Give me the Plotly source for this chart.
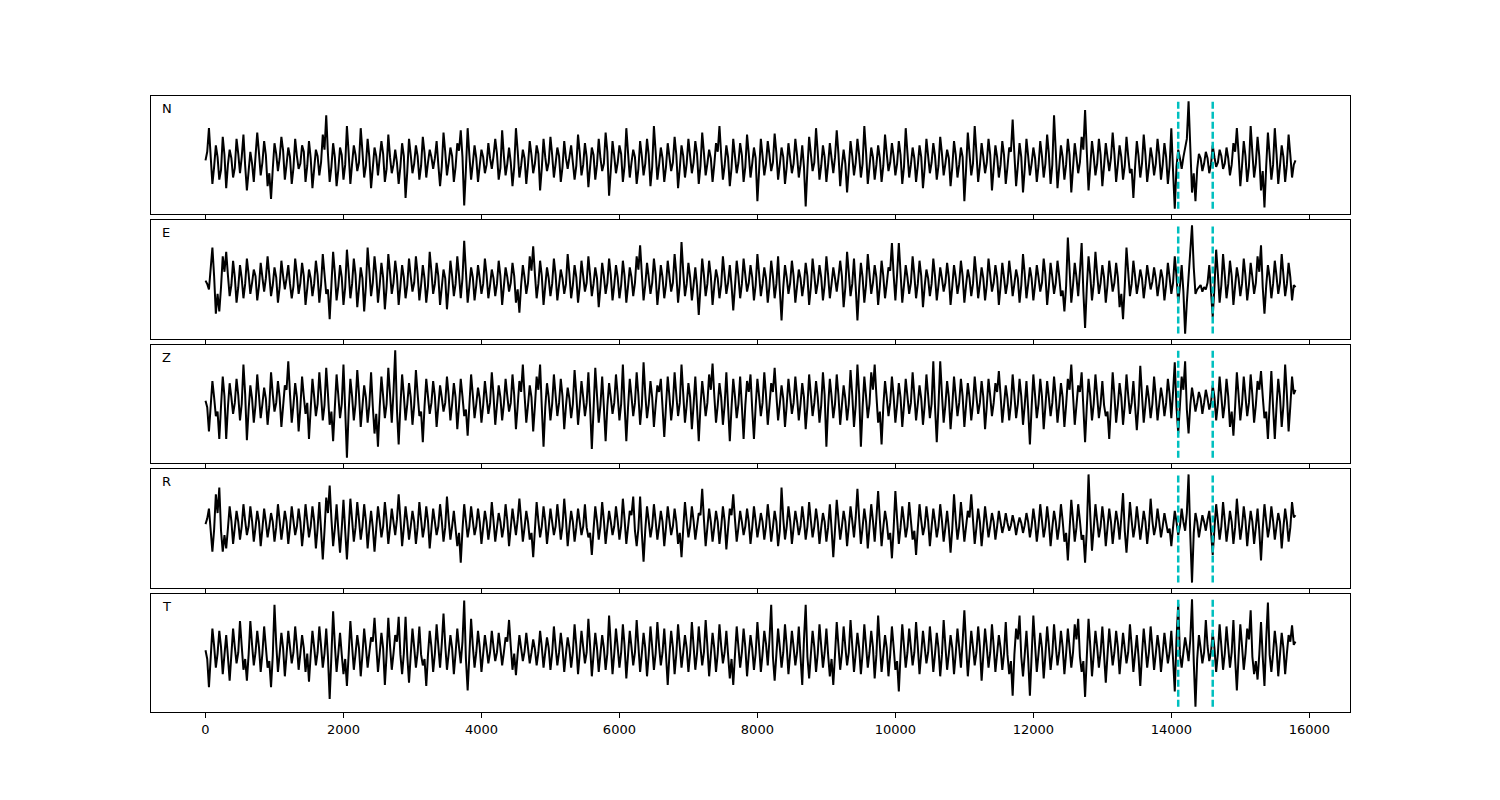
import numpy as np
import plotly.graph_objects as go
from plotly.subplots import make_subplots

# ---- data (one value every 25 samples) ----
sample_step = 25
components = ["N", "E", "Z", "R", "T"]
pick_times = [14100, 14600]
x_ticks = [0, 2000, 4000, 6000, 8000, 10000, 12000, 14000, 16000]
x_tick_labels = ["0", "2000", "4000", "6000", "8000", "10000", "12000", "14000", "16000"]

trace_N = [
    0, 8, 30, 4, -22, -6, 14, 3, -18, -9, 22, 5, -26, -4, 10, 2, -16, -7, 20, 6,
    -12, 3, 24, -5, -28, -10, 8, -3, -20, 4, 26, 7, -14, -2, 18, 5, -24, -12, -36, -8,
    16, 6, -10, 2, 22, 9, -18, -4, 12, 3, -22, -7, 20, 4, -8, -3, 14, 8, -20, -5,
    18, 2, -26, -8, 10, 4, -14, -2, 24, 10, 42, 6, -20, -6, 16, 3, -24, -9, 12, 5,
    -18, -4, 32, 7, -22, -3, 14, 5, -10, -2, 30, 8, -16, -5, 20, 3, -26, -7, 12, 4,
    -14, 2, 18, 6, -20, -8, 24, 3, -12, -4, 10, -2, -22, -6, 16, 4, -35, -10, 20, 5,
    -12, -3, 14, 4, -18, -5, 22, 7, -16, -2, 10, 3, -8, 2, 18, -4, -24, -6, 26, 8,
    -14, -2, 12, 4, -20, -6, 16, 9, 28, 3, -42, -8, 30, 5, -18, -3, 14, 2, -20, -5,
    10, 3, -12, -4, 16, 2, -8, 4, 20, 6, -18, -7, 28, 4, -14, -3, 12, -2, -24, -6,
    30, 9, -16, -5, 10, 2, -22, -4, 18, 5, -12, -3, 14, 6, -28, -7, 20, 3, -10, -2,
    22, 5, -16, -3, 12, 4, -20, -6, 18, 2, -8, 3, 14, -2, -18, -5, 24, 7, -14, -4,
    16, 3, -25, -6, 12, 5, -18, -4, 20, 2, -10, -3, 26, 8, -33, -9, 18, 4, -12, -2,
    14, 6, -20, -5, 30, 7, -16, -2, 10, 3, -22, -8, 18, 4, -14, -3, 20, 5, -24, -6,
    32, 8, -18, -4, 12, 2, -20, -6, 16, 3, -10, -2, 22, 5, -26, -7, 14, 4, -16, -3,
    20, 4, -12, -2, 18, 6, -22, -5, 26, 7, -14, -3, 10, 2, -20, -4, 16, 8, 32, 5,
    -18, -5, 14, 3, -24, -7, 20, 4, -12, -2, 16, 5, -20, -6, 24, 6, -16, -3, 12, 2,
    -38, -9, 20, 4, -14, -3, 18, 5, -10, -2, 25, 7, -18, -4, 12, 3, -22, -6, 16, 2,
    -12, -3, 20, 5, -16, -4, 14, -6, -43, -8, 22, 6, -10, -2, 30, 7, -18, -5, 14, 3,
    -20, -4, 16, 2, -12, 3, 28, 6, -24, -5, 10, -3, -30, -7, 18, 4, -14, -2, 20, 5,
    -16, -3, 32, 8, -22, -6, 12, 3, -18, -4, 14, 2, -20, -5, 24, 6, -10, -2, 16, 4,
    -14, -3, 18, 5, -22, -6, 30, 7, -16, -4, 12, 2, -20, -5, 14, 3, -26, -7, 20, 4,
    -12, -2, 16, 4, -18, -5, 22, 6, -14, -3, 10, 2, -24, -6, 18, 5, -16, -4, 12, 3,
    -38, -8, 26, 6, -14, -3, 32, 7, -20, -5, 16, 3, -12, -2, 20, 5, -28, -7, 14, 3,
    -16, -4, 18, 5, -22, -6, 12, 8, 38, 6, -24, -5, 16, 3, -30, -8, 20, 4, -14, -3,
    12, 2, -20, -5, 18, 4, -16, -3, 24, 6, -22, -4, 42, 9, -26, -6, 14, 3, -18, -4,
    20, 5, -30, -7, 16, 3, -12, -2, 22, 10, 47, 8, -28, -6, 18, 4, -14, -3, 20, 5,
    -24, -5, 16, 3, -10, 2, 26, 6, -20, -4, 14, 3, -18, -5, 22, 4, -12, -8, -35, -6,
    18, 4, -16, -3, 24, 5, -20, -6, 12, 2, -14, -3, 20, 5, -18, -4, 16, 3, -22, -5,
    30, -10, -45, -6, 10, 2, -8, 3, 12, 20, 55, 10, -30, -12, -38, -8, 6, 2, -10, -3,
    8, 2, -12, -4, 14, 3, -6, -2, 10, 4, -8, -3, 12, 2, -14, -4, 16, 8, 30, 6,
    -24, -5, 18, 4, -20, -6, 32, 7, -16, -3, 22, 4, -28, -10, -44, -6, 26, 5, -18, -4,
    30, 6, -22, -5, 14, 3, -20, -4, 24, 5, -16, -4, 0,
]

trace_E = [
    0, -3, -8, 10, 30, 4, -30, -12, -28, -6, 22, 8, 26, 5, -14, -4, 18, 3, -20, -6,
    14, 2, -16, -3, 20, 6, -12, -2, 10, 4, -18, -5, 16, 3, -10, 2, 22, 5, -14, -4,
    12, 3, -20, -6, 18, 4, -8, 2, 14, -3, -16, -5, 20, 6, -12, -2, 16, 4, -22, -7,
    10, 2, -14, -3, 18, 5, -20, -4, 24, 6, -12, -8, -35, -4, 26, 7, -18, -5, 14, 3,
    -22, -6, 28, 8, -16, -3, 20, 5, -24, -7, 12, 2, -28, -5, 30, 9, -14, -2, 22, 6,
    -20, -4, 16, 3, -26, -6, 24, 7, -12, -2, 18, 5, -22, -5, 14, 3, -16, -4, 20, 4,
    -10, -2, 22, 6, -18, -4, 14, 2, -20, -5, 26, 8, -12, -3, 16, 4, -22, -6, 10, 2,
    -26, -6, 18, 4, -14, -3, 22, 5, -16, 2, 36, 8, -20, -5, 12, 3, -18, -4, 14, 2,
    -12, -3, 20, 5, -16, -4, 10, 2, -14, -3, 18, 4, -22, -5, 12, 3, -10, -2, 16, 4,
    -20, -8, -29, -4, 14, 3, -12, -2, 22, 9, 31, 6, -16, -3, 18, 4, -22, -5, 12, 2,
    -14, -3, 20, 5, -18, -4, 10, 2, -12, -3, 24, 6, -16, -4, 14, 3, -20, -5, 18, 4,
    -10, -2, 22, 5, -14, -3, 12, 2, -24, -6, 16, 4, -12, -2, 20, 5, -18, -4, 14, 3,
    -16, -4, 18, 4, -20, -5, 12, 3, -14, -2, 22, 10, 32, 6, -18, -4, 16, 3, -12, -2,
    20, 5, -22, -6, 14, 3, -16, -4, 18, 4, -10, -2, 24, 6, -20, -3, 35, 8, -14, -3,
    16, 3, -18, -4, 12, -5, -31, -6, 20, 5, -14, -3, 18, 4, -22, -5, 10, 2, -16, -4,
    22, 5, -12, -2, 14, -4, -27, -5, 18, 4, -16, -3, 20, 5, -10, -2, 14, 3, -18, -4,
    24, 6, -14, -3, 12, 2, -20, -5, 18, 4, -16, -3, 22, -8, -36, -6, 14, 3, -12, -2,
    18, 4, -20, -5, 10, 2, -14, -3, 16, 4, -22, -6, 20, 5, -12, -2, 14, 3, -18, -4,
    22, 5, -16, -3, 12, 2, -10, 3, 18, 4, -24, -6, 26, 7, -14, -3, 20, -6, -36, -7,
    16, 3, -20, -4, 24, 6, -12, -2, 14, 3, -22, -5, 18, 4, -16, -3, 12, 9, 34, 5,
    -18, 6, 34, 7, -20, -4, 14, 3, -12, -2, 22, 5, -16, -3, 18, 4, -24, -5, 10, 2,
    -14, -3, 20, 4, -18, -4, 12, 2, -10, -2, 16, 3, -22, -5, 14, 3, -12, -2, 18, 4,
    -20, -4, 10, 2, -14, -3, 22, 5, -16, -3, 12, 2, -18, -4, 20, 5, -10, -2, 14, 3,
    -22, -5, 16, 3, -12, -2, 18, 4, -14, -3, 10, 2, -20, -4, 24, 6, -16, -3, 12, 2,
    -18, -4, 14, 3, -10, -2, 20, 5, -22, -5, 16, 3, -12, -2, 18, 4, -14, -9, -28, -5,
    39, 10, -20, -4, 16, 3, -14, 8, 34, -10, -43, -6, 22, 5, -18, -3, 26, 6, -12, -2,
    14, 3, -20, -4, 18, 4, -10, -2, 16, 3, -24, -12, -35, -5, 30, 8, -14, -3, 18, 4,
    -12, -2, 10, 2, -16, -3, 14, 3, -8, -1, 12, 2, -14, -3, 10, 2, -18, -4, 16, 3,
    -12, -2, 22, 4, -20, -5, 14, -10, -48, -20, 6, 30, 50, 12, -12, -8, -6, -4, -10, -6,
    -8, -2, 14, -10, -33, -6, 28, 6, -20, -4, 24, 5, -16, -3, 18, 4, -22, -5, 12, 2,
    -14, -3, 20, 4, -18, -4, 16, 3, -12, -2, 22, 8, 32, -6, -30, -5, 14, 3, -16, -3,
    18, 4, -12, -2, 24, 5, -14, -3, 16, 3, -18, -4, -6,
]

trace_Z = [
    0, -6, -28, -4, 18, 3, -14, -10, -35, -5, 22, 4, -35, -6, 16, 3, -12, -2, 20, 5,
    -18, -3, 33, 6, -36, -8, 14, 2, -20, -4, 24, 5, -16, -3, 12, 2, -22, -5, 26, 6,
    -10, -2, 18, 3, -24, -5, 14, 10, 36, 6, -20, -4, 16, 3, -28, -6, 22, 4, -12, -2,
    -35, -7, 20, 4, -14, -3, 26, 5, -18, -4, 30, 6, -22, -10, -37, -6, 24, 5, -16, -3,
    33, -8, -52, -10, 20, 4, -18, -3, 28, 6, -24, -5, 14, 3, -20, -4, 26, -5, -30, -12,
    -42, -6, 22, 4, -16, -3, 30, 6, -20, 8, 46, -8, -40, -5, 24, 5, -18, -3, 16, 3,
    -22, -4, 28, 6, -14, -10, -38, -5, 20, 4, -12, -2, 18, 4, -24, -5, 14, 3, -10, -2,
    22, 5, -18, -3, 16, 3, -26, -5, 20, 4, -14, -8, -32, -4, 24, 5, -16, -3, 12, 2,
    -20, -4, 18, 3, -12, -2, 26, 5, -22, -4, 14, 3, -18, -3, 20, 4, -10, -2, 24, 5,
    -26, -5, 18, 8, 33, 5, -20, -4, 14, 3, -28, -5, 22, 10, 33, -6, -42, -6, 16, 3,
    -18, -3, 24, 5, -14, -2, 20, 4, -26, -5, 12, 2, -16, -3, 28, 6, -22, -4, 18, 3,
    -14, -2, 26, -6, -44, -8, 30, 5, -20, -4, 22, -6, -37, -5, 16, 3, -12, -2, 24, 5,
    -18, -3, 33, -4, -37, -6, 20, 4, -14, -2, 26, 5, -22, -4, 35, 6, -16, -3, 18, 3,
    -24, -4, 14, 8, 20, -6, -33, -5, 22, 4, -18, -3, 26, 5, -14, -2, 33, 6, -20, -4,
    16, 3, -26, -4, 22, -6, -37, -5, 18, 3, -14, -2, 24, 10, 34, 5, -20, -4, 16, 3,
    -22, -4, 26, -5, -37, -6, 20, 4, -16, -3, 22, -5, -35, -4, 18, 8, 24, -8, -35, -5,
    20, 4, -14, -2, 26, 5, -22, -4, 16, 8, 30, 5, -18, -3, 14, 2, -24, -4, 20, 4,
    -12, -2, 22, 4, -18, -3, 16, 3, -26, -5, 24, 5, -14, -2, 18, 3, -20, -4, 26, 5,
    -42, -6, 20, 4, -16, -3, 24, 5, -22, -4, 14, 2, -18, -3, 28, 5, -24, -4, 33, 6,
    -42, -6, 22, 4, -16, -3, 26, 10, 33, 5, -20, -10, -40, -5, 18, 3, -14, -2, 22, 4,
    -20, -4, 16, 3, -24, -4, 20, 4, -12, -2, 26, 5, -18, -3, 14, 2, -22, -4, 24, 5,
    -16, -3, 36, -6, -38, -4, 36, 6, -20, -4, 18, 3, -26, -5, 22, 4, -14, -2, 20, 4,
    -24, -4, 16, 3, -18, -3, 22, 4, -12, -2, 18, 3, -26, -5, 20, 4, -14, -2, 16, 8,
    27, 5, -20, -4, 14, 2, -18, -3, 24, 5, -16, -3, 20, 4, -22, -4, 18, -8, -40, -6,
    24, 5, -16, -3, 20, 4, -26, -5, 18, 3, -14, -2, 22, 4, -20, -4, 16, 3, -24, -4,
    20, 10, 33, 5, -22, -4, 14, 8, 26, -6, -38, -5, 20, 4, -18, -3, 24, 5, -16, -3,
    18, -4, -14, -10, -35, -5, 26, 5, -20, -4, 16, 3, -22, -4, 24, 5, -12, -2, 18, -5,
    -27, -4, 32, 5, -20, -4, 14, 2, -16, -3, 22, 4, -18, -3, 12, 2, -14, -2, 20, 6,
    -16, 8, 35, -6, -30, -4, 22, 10, 36, -8, -30, -4, 12, 2, -10, -2, 8, 2, -12, -2,
    10, 2, -8, -2, 14, 3, -18, -3, 22, 4, -16, -3, 20, 4, -24, -10, -32, -5, 26, 5,
    -18, -3, 22, 4, -14, -2, 24, 5, -20, -4, 18, 10, 27, 4, -16, -10, -35, -4, 27, -6,
    -35, -5, 20, 4, -24, -4, 33, 6, -28, -5, 22, 6, 10,
]

trace_R = [
    0, 5, 14, -8, -25, -5, 27, 10, 33, -6, -25, -10, -22, -4, 16, 3, -18, -3, 12, 2,
    -14, -2, 18, 3, -10, -2, 16, 3, -16, -3, 12, 2, -20, -4, 14, 2, -12, -2, 10, 2,
    -16, -3, 18, 3, -14, -2, 12, 2, -18, -3, 16, 3, -10, -2, 14, 2, -20, -4, 18, 3,
    -12, -2, 16, 3, -22, -4, 20, -5, -32, -6, 24, 10, 35, 5, -20, -4, 18, -5, -26, -4,
    22, -6, -32, -5, 23, 4, -16, -3, 20, 4, -14, -2, 18, 3, -22, -4, 12, -3, -25, -4,
    16, 3, -12, -2, 20, 4, -18, -3, 14, 2, -10, 4, 27, 5, -20, -3, 16, 3, -14, -2,
    12, 2, -18, -3, 20, 4, -12, -2, 16, 3, -22, -4, 14, 2, -10, -2, 18, 3, -16, -3,
    25, 4, -14, -2, 12, -4, -20, -8, -35, -5, 18, 3, -12, -2, 16, 3, -10, -2, 14, 2,
    -18, -3, 12, 2, -14, -2, 20, 3, -16, -3, 10, 2, -12, -2, 18, 3, -20, -3, 14, 2,
    -10, 4, 23, 4, -16, -3, 12, 2, -14, -8, -30, -5, 20, 3, -12, -2, 16, 3, -18, -3,
    14, 2, -10, -2, 18, 3, -14, -2, 23, 4, -20, -3, 12, 2, -16, -3, 14, 2, -10, -2,
    18, -3, -12, -8, -28, -5, 16, 3, -14, -2, 20, 3, -18, -3, 12, 2, -10, -2, 16, 3,
    -14, -2, 23, 4, -18, -3, 12, 8, 25, -6, -20, -4, 25, -8, -34, -5, 16, 3, -12, -2,
    18, 3, -14, -2, 12, 2, -20, -3, 16, 3, -10, -2, 14, 2, -18, -8, -30, -4, 20, 3,
    -12, -2, 16, 3, -14, -2, 10, 8, 32, 4, -20, -3, 14, 2, -16, -3, 12, 2, -18, -3,
    16, 3, -23, -4, 14, 8, 27, 4, -16, -3, 12, 2, -10, -2, 14, 2, -18, -3, 16, 3,
    -12, -2, 10, 2, -14, -2, 18, 3, -16, -3, 12, 2, -20, -6, 33, 5, -14, -2, 16, 3,
    -18, -3, 12, 2, -10, -2, 16, 3, -14, -2, 20, 3, -12, -2, 14, 2, -18, -3, 10, 2,
    -16, -3, 18, -4, -30, -5, 22, 4, -14, -2, 12, 2, -20, -3, 16, 3, -12, 6, 32, 5,
    -18, -3, 14, 2, -22, -3, 18, 3, -16, 6, 30, 4, -20, -3, 12, 2, -14, -8, -31, -4,
    30, 5, -18, -3, 16, 3, -12, -2, 20, 3, -14, -6, -28, -4, 18, 3, -10, -2, 16, 3,
    -20, -3, 14, 2, -12, -2, 18, 3, -16, -3, 12, -4, -26, -4, 27, 4, -14, -2, 20, 3,
    -16, -2, 12, 6, 27, 4, -18, -3, 14, 2, -20, -3, 16, 2, -12, -2, 10, 2, -14, -2,
    12, 2, -8, -1, 10, 1, -6, -1, 8, 1, -10, -1, 6, 1, -8, -1, 10, 2, -12, -2,
    14, 2, -16, -2, 18, 3, -12, -2, 16, 2, -20, -3, 12, 2, -14, -2, 18, 3, -16, -8,
    -33, -5, 22, 4, -16, -3, 18, 3, -14, -10, -35, -5, 45, 8, -24, -4, 18, 3, -12, -2,
    16, 3, -20, -3, 14, 2, -18, -3, 12, 2, -14, 6, 28, -6, -26, -4, 20, 3, -12, -2,
    16, 2, -14, -2, 12, 2, -18, -3, 23, 3, -10, -2, 14, 2, -12, -2, 10, 1, -8, -4,
    -20, -3, 12, 2, -10, -2, 14, 2, -6, 10, 45, -10, -53, -8, 10, 2, -12, -2, 8, 2,
    -6, 4, 12, -6, -28, -4, 18, 3, -14, -2, 20, 3, -16, -3, 12, 2, -18, -3, 23, 4,
    -14, -2, 16, 3, -20, -3, 12, 2, -18, -3, 14, -6, -33, -4, 18, 3, -12, -2, 16, 3,
    -14, -2, 10, 2, -22, -3, 14, 2, -16, -3, 20, 6, 8,
]

trace_T = [
    0, -8, -34, -5, 20, 4, -16, -3, 18, 3, -22, -4, 14, -6, -28, -4, 20, 3, -12, -2,
    27, 4, -18, -8, -28, -4, 27, 5, -14, -2, 18, 3, -20, -3, 22, 3, -16, -10, -34, -5,
    42, 6, -20, -3, 16, 2, -24, -4, 18, 3, -12, -2, 22, 4, -18, -3, 14, 2, -20, -3,
    -29, -4, 18, 3, -14, -2, 22, 4, -16, -3, 20, -6, -45, -5, 36, 5, -20, -3, 16, -4,
    -22, -8, -33, -4, 27, 4, -18, -3, 14, 2, -24, -4, 20, 3, -16, -2, 12, 8, 30, 5,
    -20, -3, 16, 2, -32, -4, 30, 4, -18, -3, 14, 8, 31, -4, -22, -3, 31, -5, -30, -4,
    20, 3, -16, -2, 22, -4, -14, -8, -33, -4, 18, 3, -20, -3, 24, 4, -16, 6, 34, 5,
    -18, -3, 14, 2, -22, -3, 20, 3, -12, 8, 46, -8, -37, -4, 29, 4, -16, -2, 18, 3,
    -20, -3, 14, 2, -12, -2, 18, 3, -10, -2, 16, 2, -14, -2, 12, 8, 28, 4, -18, -3,
    -23, -3, 14, 2, -10, -1, 16, 2, -12, -2, 10, 1, -14, -2, 18, 3, -16, -2, 12, 2,
    -18, -3, 22, 3, -14, -2, 16, 2, -20, -3, 12, 2, -16, -2, 24, 4, -22, -3, 18, 3,
    -12, -2, 29, 4, -24, -4, 16, 2, -20, -3, 14, 2, -18, -3, 32, 5, -22, -3, 20, 3,
    -16, -2, 24, 4, -26, -4, 18, 3, -14, -2, 28, 4, -20, -3, 16, 2, -24, -4, 22, 3,
    -18, -3, 26, 4, -14, -2, 20, -4, -32, -4, 18, 3, -22, -3, 24, 4, -16, -2, 14, 2,
    -20, -3, 26, 4, -18, -3, 22, 3, -14, -2, 28, 4, -24, -4, 16, 2, -20, -3, 24, 4,
    -12, -2, 18, -4, -26, -8, -32, -4, 22, 3, -16, -2, 20, 3, -24, -4, 14, 2, -18, -3,
    26, 4, -20, -3, 18, 6, -14, 10, 42, -6, -28, -4, 20, 3, -16, -2, 24, 4, -22, -3,
    18, 3, -14, -2, 22, -6, -32, 10, 42, -6, -26, -4, 18, 3, -20, -3, 24, 4, -16, -2,
    20, -4, -24, -8, -32, -4, 26, 4, -18, -3, 22, 3, -14, -2, 28, 4, -20, -3, 16, 2,
    -22, -3, 24, 4, -16, -2, 18, 3, -26, -4, 32, 5, -20, -3, 14, 2, -24, -4, 22, 3,
    -18, -10, -38, -4, 24, 4, -16, -2, 20, 3, -14, -2, 26, 4, -22, -3, 18, 3, -12, -2,
    22, 3, -20, -3, 16, 2, -24, -4, 28, 4, -18, -3, 14, 2, -22, -3, 20, 3, -16, 8,
    37, 5, -24, -4, 18, 3, -14, -2, 22, 3, -28, -4, 20, 3, -16, -2, 24, 4, -20, -3,
    14, 2, -18, -3, 26, -4, -22, -10, -42, -4, 20, 10, 32, -6, -24, -4, 18, -8, -42, -5,
    32, 5, -20, -3, 16, 2, -26, -4, 22, 3, -18, -3, 24, 4, -14, -2, 18, 3, -22, -3,
    20, 3, -16, -2, 24, 10, 29, -6, -20, -10, -43, -6, 29, 4, -24, -4, 18, 3, -16, -2,
    22, -4, -30, -4, 20, 3, -14, -2, 18, 3, -22, -3, 16, 2, -12, -2, 24, 4, -20, -3,
    14, -6, -33, -4, 20, 3, -16, -2, 22, 3, -18, -3, 14, 2, -20, -3, 16, 2, -12, -2,
    18, -8, -38, 10, 43, -4, -16, -2, 12, 2, -10, 10, 47, -10, -52, -8, 14, 2, -12, -2,
    28, 4, -10, -2, 16, 2, -20, -3, 24, 4, -18, -3, 22, 3, -16, -2, 28, -8, -37, -5,
    24, 4, -18, -3, 20, 10, 37, -6, -22, -10, -27, -4, 26, -6, -33, 10, 44, -4, -20, -3,
    18, 3, -24, -4, 16, 2, -22, -3, 14, 8, 23, 5, 8,
]

traces = [trace_N, trace_E, trace_Z, trace_R, trace_T]

# ---- figure (page body adds an 8 px offset) ----
FIG_W, FIG_H = 1484, 784
ML, MR, MT, MB = 143, 142, 88, 80
plot_h = FIG_H - MT - MB
panel_px = [(96, 214), (220, 339), (345, 463), (469, 588), (594, 712)]  # screen px
OFF = 8

fig = make_subplots(rows=5, cols=1, shared_xaxes=True, vertical_spacing=0.01)

max_t = max((len(t) - 1) * sample_step for t in traces)
pad = 0.05 * max_t
xrange = [-pad, max_t + pad]

for k, (name, vals) in enumerate(zip(components, traces)):
    row = k + 1
    v = np.asarray(vals, dtype=float)
    t = np.arange(len(v)) * sample_step
    fig.add_trace(
        go.Scatter(x=t, y=v, mode="lines", line=dict(color="black", width=2),
                   showlegend=False, hoverinfo="skip"),
        row=row, col=1,
    )
    lo, hi = v.min(), v.max()
    span = hi - lo
    yr = [lo - 0.05 * span, hi + 0.05 * span]
    top, bot = panel_px[k]
    top -= OFF
    bot -= OFF
    dom = [(FIG_H - MB - bot) / plot_h, (FIG_H - MB - top) / plot_h]
    yname = "yaxis" if row == 1 else f"yaxis{row}"
    xname = "xaxis" if row == 1 else f"xaxis{row}"
    fig.layout[yname].update(domain=dom, range=yr, showticklabels=False, ticks="",
                             showgrid=False, zeroline=False, showline=True,
                             linecolor="black", linewidth=1, mirror=True)
    fig.layout[xname].update(range=xrange, tickvals=x_ticks, ticktext=x_tick_labels,
                             ticks="outside", ticklen=5, tickwidth=1, tickcolor="black",
                             showgrid=False, zeroline=False, showline=True,
                             linecolor="black", linewidth=1, mirror=True,
                             showticklabels=(row == 5),
                             tickfont=dict(family="DejaVu Sans", size=13, color="black"))
    xref = "x" if row == 1 else f"x{row}"
    yref = "y" if row == 1 else f"y{row}"
    for pt in pick_times:
        fig.add_shape(type="line", xref=xref, yref=yref, x0=pt, x1=pt, y0=lo, y1=hi,
                      line=dict(color="#00bfbf", width=2.5, dash="7px,3px"))
    fig.add_annotation(text=name, xref=f"{xref} domain", yref=f"{yref} domain",
                       x=(160 - 151) / 1199, y=1 - 12 / (bot - top),
                       xanchor="left", yanchor="middle", showarrow=False,
                       font=dict(family="DejaVu Sans", size=13, color="black"))

fig.update_layout(width=FIG_W, height=FIG_H, margin=dict(l=ML, r=MR, t=MT, b=MB),
                  paper_bgcolor="white", plot_bgcolor="white")

fig.write_html("out.html")
